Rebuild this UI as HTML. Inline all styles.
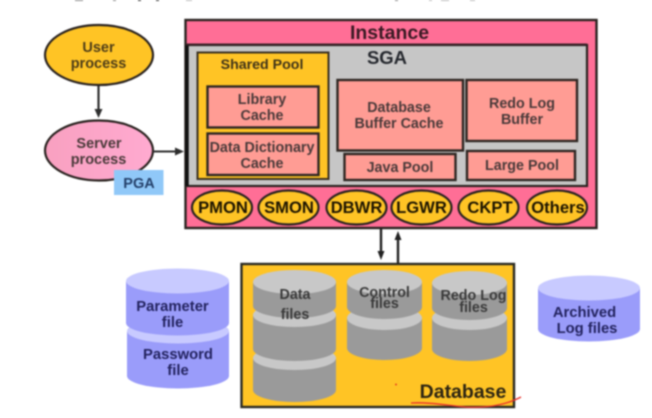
<!DOCTYPE html>
<html><head><meta charset="utf-8"><style>
html,body{margin:0;padding:0;background:#fff;width:652px;height:418px;overflow:hidden}
svg{display:block;filter:blur(.75px)}
text{font-family:"Liberation Sans",sans-serif;font-weight:700;text-anchor:middle}
.d{fill:#4a3a3a;font-size:14.3px}
.n{fill:#23235f;font-size:14.8px}
.g{fill:#3a3a3a;font-size:14.3px}
.p{fill:#1c1400;font-size:16.6px}
.b{stroke:#2a2320;stroke-width:2.4}
.s{fill:#ff9c94;stroke:#2e2622;stroke-width:2.4}
.e{fill:#ffc425;stroke:#2a2320;stroke-width:2.2}
</style></head><body>
<svg width="652" height="418" viewBox="0 0 652 418" xmlns="http://www.w3.org/2000/svg">
<defs><linearGradient id="pg" x1="0" x2="1" y1="0" y2="0"><stop offset="0" stop-color="#f8a0c0"/><stop offset="1" stop-color="#ffaad0"/></linearGradient></defs>

<!-- Instance -->
<rect x="185.500" y="20" width="411" height="208" fill="#ff6e96" class="b"/>
<rect x="187" y="45" width="400" height="141" fill="#c6c6c6" stroke="#2a2320" stroke-width="2.2"/>
<line x1="187" y1="45" x2="187" y2="186" stroke="#111" stroke-width="3.500"/>
<line x1="186" y1="44.500" x2="587" y2="44.500" stroke="#3a2228" stroke-width="2"/>
<text x="389.500" y="39" style="font-size:19.5px;fill:#3a1a24">Instance</text>
<text x="387" y="64" style="font-size:18.5px;fill:#25282e">SGA</text>

<!-- Shared pool -->
<rect x="197.500" y="52.500" width="131" height="126.500" fill="#ffc425" stroke="#3a3020" stroke-width="2"/>
<text x="262" y="69" style="font-size:14.2px;fill:#3f3318">Shared Pool</text>
<rect x="207.500" y="86.500" width="111" height="41" class="s"/>
<text x="262" y="104" class="d">Library</text><text x="262" y="120" class="d">Cache</text>
<rect x="207.500" y="133.500" width="111" height="41.500" class="s"/>
<text x="262" y="152" class="d">Data Dictionary</text><text x="262" y="168" class="d">Cache</text>

<!-- SGA pools -->
<rect x="337.500" y="80" width="125.500" height="70.500" class="s"/>
<text x="399" y="112" class="d">Database</text><text x="399" y="128" class="d">Buffer Cache</text>
<rect x="466.500" y="80" width="110.500" height="61" class="s"/>
<text x="522" y="108" class="d">Redo Log</text><text x="522" y="124" class="d">Buffer</text>
<rect x="344.500" y="154" width="111" height="26" class="s"/>
<text x="400" y="172" class="d">Java Pool</text>
<rect x="467" y="151" width="108" height="29" class="s"/>
<text x="522" y="170" class="d">Large Pool</text>

<!-- Background processes -->
<ellipse cx="222" cy="207.500" rx="30" ry="17" class="e"/><text x="223" y="213" class="p">PMON</text>
<ellipse cx="288.500" cy="207.500" rx="30" ry="17" class="e"/><text x="289" y="213" class="p">SMON</text>
<ellipse cx="356.500" cy="207.500" rx="30" ry="17" class="e"/><text x="356.500" y="213" class="p">DBWR</text>
<ellipse cx="421.500" cy="207.500" rx="30" ry="17" class="e"/><text x="421.500" y="213" class="p">LGWR</text>
<ellipse cx="488.500" cy="207.500" rx="30" ry="17" class="e"/><text x="490" y="213" class="p">CKPT</text>
<ellipse cx="557" cy="207.500" rx="30" ry="17" class="e"/><text x="558" y="213" class="p">Others</text>

<!-- User / server -->
<line x1="98.500" y1="85" x2="98.500" y2="110" stroke="#2e2e2e" stroke-width="2.200"/>
<polygon points="94.500,109 102.500,109 98.500,118" fill="#2e2e2e"/>
<ellipse cx="99" cy="55" rx="54" ry="30" class="e"/>
<text x="98.500" y="52" style="font-size:14.5px;fill:#4e3d18">User</text><text x="98.500" y="68" style="font-size:14.5px;fill:#4e3d18">process</text>
<ellipse cx="99" cy="150.500" rx="54" ry="30" fill="url(#pg)" stroke="#2a2320" stroke-width="2.200"/>
<text x="99" y="148" style="font-size:14.5px;fill:#4a3a3a">Server</text><text x="98.500" y="164" style="font-size:14.5px;fill:#4a3a3a">process</text>
<line x1="153" y1="151.500" x2="178" y2="151.500" stroke="#2e2e2e" stroke-width="2"/>
<polygon points="175,147.500 175,155.500 184,151.500" fill="#2e2e2e"/>
<rect x="114" y="170" width="49.500" height="25" fill="#90c8f8"/>
<text x="139" y="188" style="font-size:14.5px;fill:#24406a">PGA</text>

<!-- Instance <-> Database arrows -->
<line x1="381" y1="228" x2="381" y2="252" stroke="#222" stroke-width="2.400"/>
<polygon points="377.500,251 384.500,251 381,260" fill="#222"/>
<line x1="398" y1="240" x2="398" y2="263" stroke="#222" stroke-width="2.400"/>
<polygon points="394.500,240 401.500,240 398,231" fill="#222"/>

<!-- Database -->
<rect x="241.500" y="264" width="272.500" height="143" fill="#ffc425" stroke="#2a2a22" stroke-width="2.400"/>
<text x="463" y="398" style="font-size:19.500px;fill:#2d2512">Database</text>

<!-- Data files -->
<path d="M253 358v32a41.500 12 0 0 0 83 0v-32z" fill="#9a9a9a"/><ellipse cx="294.500" cy="358" rx="41.500" ry="12" fill="#c8c8c8"/>
<path d="M253 315v34a41.500 12 0 0 0 83 0v-34z" fill="#9a9a9a"/><ellipse cx="294.500" cy="315" rx="41.500" ry="12" fill="#c8c8c8"/>
<path d="M253 282v24a41.500 12 0 0 0 83 0v-24z" fill="#9a9a9a"/><ellipse cx="294.500" cy="282" rx="41.500" ry="12" fill="#c8c8c8"/>
<text x="295" y="299" class="g">Data</text><text x="295" y="319" class="g">files</text>

<!-- Control files -->
<path d="M347 318v30a37.500 12 0 0 0 75 0v-30z" fill="#9a9a9a"/><ellipse cx="384.500" cy="318" rx="37.500" ry="12" fill="#c8c8c8"/>
<path d="M347 282v25a37.500 12 0 0 0 75 0v-25z" fill="#9a9a9a"/><ellipse cx="384.500" cy="282" rx="37.500" ry="12" fill="#c8c8c8"/>
<text x="384.500" y="297" class="g">Control</text><text x="384.500" y="308" class="g">files</text>

<!-- Redo log files -->
<path d="M432 318v31a37.500 12 0 0 0 75 0v-31z" fill="#9a9a9a"/><ellipse cx="469.500" cy="318" rx="37.500" ry="12" fill="#c8c8c8"/>
<path d="M432 283v25a37.500 12 0 0 0 75 0v-25z" fill="#9a9a9a"/><ellipse cx="469.500" cy="283" rx="37.500" ry="12" fill="#c8c8c8"/>
<text x="473.500" y="300" class="g">Redo Log</text><text x="473.500" y="312" class="g">files</text>

<!-- Parameter / password -->
<path d="M127 331v45a51 12.500 0 0 0 102 0v-45z" fill="#9a9cfa"/><ellipse cx="178" cy="331" rx="51" ry="12.500" fill="#c8caff"/>
<path d="M126 281v42a51.500 12.500 0 0 0 103 0v-42z" fill="#9a9cfa"/><ellipse cx="177.500" cy="281" rx="51.500" ry="12.500" fill="#c8caff"/>
<text x="172.500" y="311" class="n">Parameter</text><text x="172.500" y="327" class="n">file</text>
<text x="178" y="359" class="n">Password</text><text x="178" y="375" class="n">file</text>

<!-- Archived -->
<path d="M538 288v41a51 12.500 0 0 0 102 0v-41z" fill="#9a9cfa"/><ellipse cx="589" cy="288" rx="51" ry="12.500" fill="#c8caff"/>
<text x="584.500" y="317" class="n">Archived</text><text x="587" y="333" class="n">Log files</text>

<!-- Red annotation -->
<path d="M411 403 C428 402 445 405 465 407 C482 408 502 407 521 397" fill="none" stroke="#e8302a" stroke-width="1.300"/>
<circle cx="396" cy="384.500" r="0.900" fill="#e02020"/>

<!-- Clipped text at top edge -->
<g fill="#888"><rect x="75" y="0" width="8" height="1"/><rect x="113" y="0" width="3" height="1"/><rect x="138" y="0" width="3" height="1" fill="#333"/><rect x="156" y="0" width="3" height="1" fill="#333"/><rect x="186" y="0" width="6" height="1" fill="#bbb"/><rect x="395" y="0" width="3" height="1"/><rect x="429" y="0" width="3" height="1" fill="#bbb"/><rect x="441" y="0" width="8" height="1" fill="#bbb"/><rect x="470" y="0" width="5" height="1" fill="#bbb"/></g>
</svg>
</body></html>
